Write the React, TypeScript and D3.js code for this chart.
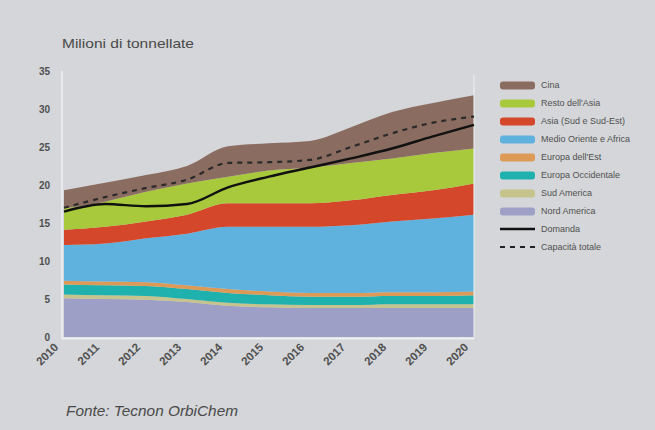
import React from "react";
import * as d3 from "d3";

// Anni sull'asse orizzontale
const years = ["2010", "2011", "2012", "2013", "2014", "2015", "2016", "2017", "2018", "2019", "2020"];

// Milioni di tonnellate per area geografica (strati dal basso verso l'alto)
const nordAmerica = [5.1, 5.0, 4.9, 4.6, 4.1, 3.9, 3.8, 3.8, 3.8, 3.8, 3.8];
const sudAmerica = [0.5, 0.5, 0.5, 0.4, 0.4, 0.4, 0.4, 0.4, 0.5, 0.5, 0.5];
const europaOcc = [1.3, 1.3, 1.3, 1.3, 1.3, 1.2, 1.1, 1.1, 1.1, 1.1, 1.2];
const europaEst = [0.5, 0.5, 0.5, 0.5, 0.5, 0.5, 0.5, 0.5, 0.5, 0.5, 0.5];
const medioOriente = [4.7, 5.0, 5.8, 6.8, 8.2, 8.5, 8.7, 8.9, 9.3, 9.7, 10.1];
const asiaSud = [2.0, 2.2, 2.2, 2.5, 3.1, 3.1, 3.1, 3.3, 3.5, 3.7, 4.1];
const restoAsia = [2.8, 3.3, 3.9, 4.1, 3.5, 4.3, 4.7, 4.9, 4.8, 4.9, 4.6];
const cina = [2.4, 2.5, 2.2, 2.3, 4.0, 3.6, 3.5, 4.7, 6.1, 6.6, 7.0];

// Linee
const domanda = [16.5, 17.5, 17.2, 17.5, 19.7, 21.1, 22.3, 23.5, 24.8, 26.4, 27.9];
const capacita = [17.0, 18.4, 19.6, 20.7, 22.9, 23.0, 23.3, 25.0, 26.8, 28.2, 29.0];

const yTicks = [0, 5, 10, 15, 20, 25, 30, 35];

const layerKeys = ["nordAmerica", "sudAmerica", "europaOcc", "europaEst", "medioOriente", "asiaSud", "restoAsia", "cina"];
const layerValues: Record<string, number[]> = {
  nordAmerica, sudAmerica, europaOcc, europaEst, medioOriente, asiaSud, restoAsia, cina,
};
const layerColors: Record<string, string> = {
  nordAmerica: "#9d9fc6",
  sudAmerica: "#c6c38c",
  europaOcc: "#1fb1ae",
  europaEst: "#dd9a57",
  medioOriente: "#60b2de",
  asiaSud: "#d4472b",
  restoAsia: "#a9c93c",
  cina: "#8b6c61",
};

const legendItems = [
  { label: "Cina", key: "cina", kind: "area" },
  { label: "Resto dell'Asia", key: "restoAsia", kind: "area" },
  { label: "Asia (Sud e Sud-Est)", key: "asiaSud", kind: "area" },
  { label: "Medio Oriente e Africa", key: "medioOriente", kind: "area" },
  { label: "Europa dell'Est", key: "europaEst", kind: "area" },
  { label: "Europa Occidentale", key: "europaOcc", kind: "area" },
  { label: "Sud America", key: "sudAmerica", kind: "area" },
  { label: "Nord America", key: "nordAmerica", kind: "area" },
  { label: "Domanda", key: "domanda", kind: "line" },
  { label: "Capacità totale", key: "capacita", kind: "dash" },
];

const W = 655;
const H = 430;
const left = 64;
const right = 474;
const top = 71;
const bottom = 337;

export default function App() {
  const x = d3.scalePoint<string>().domain(years).range([left, right]);
  const y = d3.scaleLinear().domain([0, 35]).range([bottom, top]);

  const rows = years.map((yr, i) => {
    const r: Record<string, number | string> = { year: yr };
    layerKeys.forEach((k) => (r[k] = layerValues[k][i]));
    return r;
  });
  const series = d3.stack<Record<string, number | string>>().keys(layerKeys)(rows as any);

  const area = d3
    .area<any>()
    .x((d) => x(d.data.year as string)!)
    .y0((d) => y(d[0]))
    .y1((d) => y(d[1]))
    .curve(d3.curveMonotoneX);

  const line = d3
    .line<number>()
    .x((_, i) => x(years[i])!)
    .y((d) => y(d))
    .curve(d3.curveMonotoneX);

  const font = "'Liberation Sans', Arial, sans-serif";

  return (
    <svg width={W} height={H} style={{ position: "absolute", left: 0, top: 0 }} fontFamily={font}>
      <rect x={0} y={0} width={W} height={H} fill="#d4d6d9" />

      <text x={62} y={48} fontSize={13} fill="#4a4a4a" textLength={132} lengthAdjust="spacingAndGlyphs">
        Milioni di tonnellate
      </text>

      {/* asse verticale */}
      <line x1={left - 2} x2={left - 2} y1={top} y2={bottom + 2} stroke="#eef0f2" strokeWidth={1.5} />
      {yTicks.map((t) => (
        <text key={t} x={50} y={y(t) + 3.5} textAnchor="end" fontSize={10} fontWeight="bold" fill="#505050">
          {t}
        </text>
      ))}

      {series.map((s) => (
        <path key={s.key} d={area(s as any) || ""} fill={layerColors[s.key]} />
      ))}

      <line x1={right} x2={right} y1={top + 4} y2={bottom} stroke="#eef0f2" strokeWidth={1.5} opacity={0.7} />
      <line x1={left - 2} x2={right} y1={bottom + 1.5} y2={bottom + 1.5} stroke="#eef0f2" strokeWidth={2} />

      <path d={line(capacita) || ""} fill="none" stroke="#2a2a2a" strokeWidth={2.2} strokeDasharray="5,5" />
      <path d={line(domanda) || ""} fill="none" stroke="#111" strokeWidth={2.4} />

      {years.map((yr) => {
        const px = x(yr)! - 5;
        const py = 348;
        return (
          <text
            key={yr}
            x={px}
            y={py}
            textAnchor="end"
            fontSize={11.5}
            fontWeight="bold"
            fill="#505050"
            transform={`rotate(-45 ${px} ${py})`}
          >
            {yr}
          </text>
        );
      })}

      {legendItems.map((it, i) => {
        const ly = 85 + i * 18;
        return (
          <g key={it.key}>
            {it.kind === "area" && (
              <rect x={500} y={ly - 3.5} width={35} height={8} rx={3} fill={layerColors[it.key]} />
            )}
            {it.kind === "line" && <line x1={500} x2={535} y1={ly} y2={ly} stroke="#111" strokeWidth={2.4} />}
            {it.kind === "dash" && (
              <line x1={500} x2={535} y1={ly} y2={ly} stroke="#222" strokeWidth={2.2} strokeDasharray="5,5" />
            )}
            <text x={541} y={ly + 3} fontSize={9} fill="#505050">
              {it.label}
            </text>
          </g>
        );
      })}

      <text x={66} y={416} fontSize={14} fontStyle="italic" fill="#4a4a4a" textLength={172} lengthAdjust="spacingAndGlyphs">
        Fonte: Tecnon OrbiChem
      </text>
    </svg>
  );
}
